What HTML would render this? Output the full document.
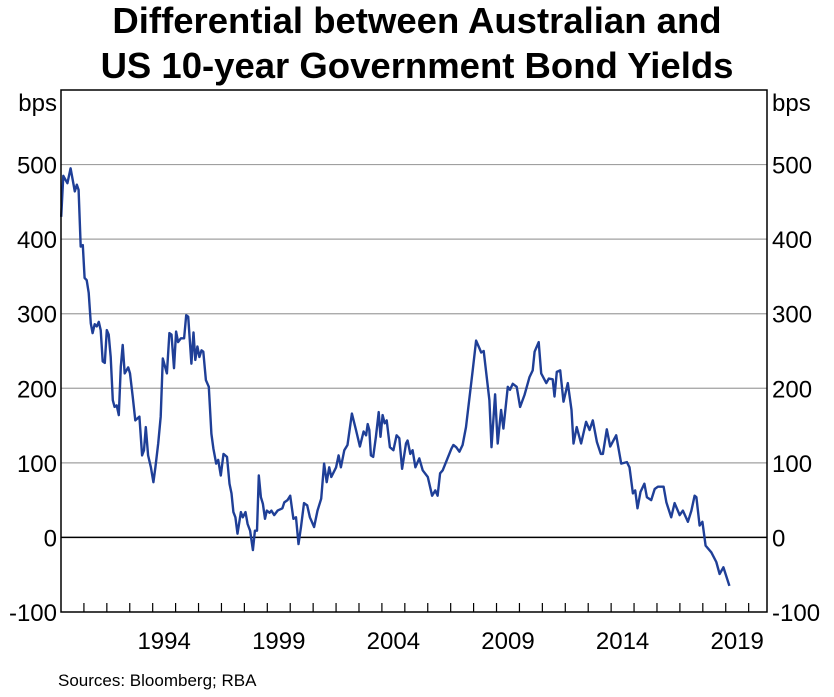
<!DOCTYPE html>
<html><head><meta charset="utf-8"><style>
body{margin:0;background:#fff;}
svg{display:block;font-family:"Liberation Sans",Arial,sans-serif;}
</style></head><body>
<svg id="chart" width="834" height="697">
<text x="417" y="33" text-anchor="middle" font-size="36.5" font-weight="bold">Differential between Australian and</text>
<text x="417" y="78" text-anchor="middle" font-size="36.5" font-weight="bold">US 10-year Government Bond Yields</text>
<text x="57" y="111" text-anchor="end" font-size="24">bps</text>
<text x="772" y="111" font-size="24">bps</text>
<g id="grid"></g>
<g id="yl"></g>
<g id="xt"></g>
<path id="line" fill="none" stroke="#1f3f97" stroke-width="2.4" stroke-linejoin="round"/>
<rect x="61" y="90" width="706" height="522" fill="none" stroke="#000" stroke-width="1.5"/>
<text x="58" y="686" font-size="17">Sources: Bloomberg; RBA</text>
</svg>
<script>
const yTicks=[-100,0,100,200,300,400,500];
const xLabels=[1994,1999,2004,2009,2014,2019];
const years=[1990.01,1990.10,1990.28,1990.42,1990.60,1990.69,1990.77,1990.86,1990.95,1991.03,1991.12,1991.21,1991.30,1991.38,1991.47,1991.56,1991.65,1991.73,1991.82,1991.91,1992.00,1992.08,1992.17,1992.26,1992.34,1992.43,1992.52,1992.61,1992.69,1992.78,1992.93,1993.01,1993.13,1993.24,1993.42,1993.54,1993.62,1993.70,1993.80,1993.92,1994.03,1994.12,1994.24,1994.35,1994.44,1994.62,1994.73,1994.82,1994.93,1995.02,1995.11,1995.23,1995.37,1995.46,1995.55,1995.69,1995.78,1995.86,1995.95,1996.04,1996.13,1996.21,1996.32,1996.45,1996.56,1996.65,1996.77,1996.86,1996.97,1997.09,1997.24,1997.35,1997.44,1997.52,1997.61,1997.70,1997.85,1997.93,1998.05,1998.14,1998.25,1998.37,1998.46,1998.55,1998.63,1998.72,1998.81,1998.90,1998.98,1999.10,1999.18,1999.30,1999.45,1999.66,1999.74,1999.88,2000.00,2000.14,2000.25,2000.36,2000.47,2000.60,2000.74,2000.86,2001.04,2001.19,2001.35,2001.48,2001.59,2001.70,2001.79,2002.00,2002.11,2002.21,2002.36,2002.50,2002.69,2002.87,2003.04,2003.20,2003.31,2003.38,2003.45,2003.52,2003.62,2003.74,2003.86,2003.94,2004.03,2004.12,2004.21,2004.35,2004.50,2004.64,2004.76,2004.88,2005.05,2005.12,2005.24,2005.34,2005.46,2005.63,2005.78,2006.00,2006.19,2006.33,2006.43,2006.54,2006.65,2006.94,2007.03,2007.12,2007.24,2007.38,2007.52,2007.67,2007.96,2008.11,2008.25,2008.33,2008.44,2008.69,2008.78,2008.94,2009.05,2009.20,2009.30,2009.49,2009.59,2009.71,2009.88,2010.03,2010.22,2010.44,2010.58,2010.66,2010.84,2010.95,2011.17,2011.28,2011.45,2011.53,2011.63,2011.78,2011.92,2012.11,2012.27,2012.36,2012.50,2012.69,2012.91,2013.06,2013.20,2013.38,2013.55,2013.64,2013.81,2013.96,2014.22,2014.44,2014.69,2014.80,2014.95,2015.05,2015.15,2015.28,2015.45,2015.56,2015.75,2015.90,2016.04,2016.29,2016.41,2016.62,2016.77,2016.99,2017.13,2017.35,2017.50,2017.64,2017.72,2017.86,2017.98,2018.12,2018.37,2018.59,2018.73,2018.90,2019.16];
const values=[430,485,475,495,464,473,466,390,392,348,345,328,287,274,286,283,289,278,236,234,278,272,242,184,175,177,164,229,258,220,228,220,189,157,162,110,117,148,110,94,74,94,126,162,240,220,274,272,227,276,262,267,267,298,296,233,275,238,256,242,251,249,211,202,139,119,99,104,83,112,108,72,59,34,27,5,34,27,34,18,9,-17,9,9,83,54,45,25,36,33,36,30,36,39,47,50,56,25,27,-9,14,46,43,27,14,36,52,99,74,94,81,94,110,94,117,124,166,144,122,142,137,152,144,110,108,135,168,135,164,153,157,121,117,137,133,92,126,130,112,117,94,106,90,81,56,63,56,86,90,112,119,124,121,115,124,148,224,264,254,248,250,184,121,192,126,171,146,202,198,206,202,175,191,215,224,249,262,220,207,213,212,189,222,224,182,207,171,126,148,126,155,144,157,128,112,112,145,122,137,99,101,94,59,63,39,61,72,54,50,65,68,68,47,27,46,30,36,21,36,56,54,16,21,-11,-20,-33,-49,-40,-65];
const X0=61,X1=767,Y0=90,Y1=612,xmin=1990,xmax=2020.8,ymin=-100,ymax=600;
const xs=v=>X0+(v-xmin)/(xmax-xmin)*(X1-X0);
const ys=v=>Y1-(v-ymin)/(ymax-ymin)*(Y1-Y0);
const NS='http://www.w3.org/2000/svg';
function mk(t,a,p){const e=document.createElementNS(NS,t);for(const k in a)e.setAttribute(k,a[k]);p.appendChild(e);return e;}
const grid=document.getElementById('grid'),yl=document.getElementById('yl'),xt=document.getElementById('xt');
yTicks.forEach(v=>{
  if(v>ymin){const l=mk('line',{x1:X0,x2:X1,y1:ys(v),y2:ys(v),stroke:v===0?'#000':'#a0a0a0','stroke-width':v===0?1.5:1.2},grid);
  
  }
  const a=mk('text',{x:57,y:ys(v)+9,'text-anchor':'end','font-size':24},yl);a.textContent=v;
  
  
  const b=mk('text',{x:772,y:ys(v)+9,'font-size':24},yl);b.textContent=v;
  
  
});
for(let y=1991;y<=2020;y++){const t=mk('line',{x1:xs(y),x2:xs(y),y1:Y1,y2:Y1-9,stroke:'#000','stroke-width':1.2},xt);
  
  }
xLabels.forEach(y=>{const t=mk('text',{x:xs(y+0.5),y:649,'text-anchor':'middle','font-size':24},xt);t.textContent=y;
  
  });
document.getElementById('line').setAttribute('d',years.map((y,i)=>(i?'L':'M')+xs(y).toFixed(1)+' '+ys(values[i]).toFixed(1)).join(''));
</script>
</body></html>
